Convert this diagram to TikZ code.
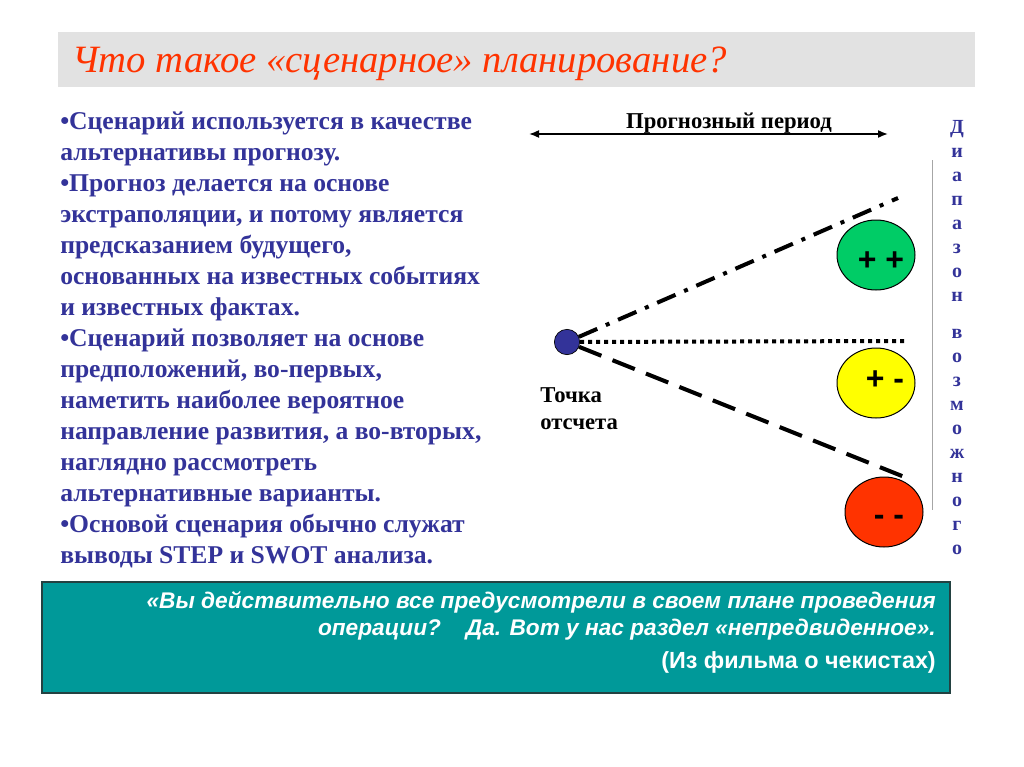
\documentclass[tikz,border=0pt]{standalone}
\usepackage{fontspec}
\setmainfont{Liberation Serif}
\setsansfont{Liberation Sans}
\usetikzlibrary{shapes.geometric,arrows.meta}

\definecolor{navy}{RGB}{51,51,153}
\definecolor{titlered}{RGB}{255,51,0}
\definecolor{titlegray}{RGB}{226,226,226}
\definecolor{quoteteal}{RGB}{0,153,153}
\definecolor{boxedge}{RGB}{35,65,65}
\definecolor{bestgreen}{RGB}{0,204,102}
\definecolor{midyellow}{RGB}{255,255,0}
\definecolor{worstred}{RGB}{255,51,0}

\newcommand{\fsz}[2]{\fontsize{#1}{#2}\selectfont}

\begin{document}
\begin{tikzpicture}[x=0.75pt,y=-0.75pt]

        \fill[white] (0,0) rectangle (1024,767);
        \useasboundingbox (0,0) rectangle (1024,767);

        \fill[titlegray] (58,32) rectangle (975,87);
        \node[anchor=base west, inner sep=0pt, text=titlered, font=\fsz{29}{35}\itshape] (title) at (72,73)
          {Что такое «сценарное» планирование?};

        \node[anchor=base west, inner sep=0pt, align=left, text=navy, font=\fsz{19.2}{23.25}\bfseries] (notes) at (60,563)
          {•Сценарий используется в качестве\\
           альтернативы прогнозу.\\
           •Прогноз делается на основе\\
           экстраполяции, и потому является\\
           предсказанием будущего,\\
           основанных на известных событиях\\
           и известных фактах.\\
           •Сценарий позволяет на основе\\
           предположений, во-первых,\\
           наметить наиболее вероятное\\
           направление развития, а во-вторых,\\
           наглядно рассмотреть\\
           альтернативные варианты.\\
           •Основой сценария обычно служат\\
           выводы STEP и SWOT анализа.};

        \coordinate (pstart) at (529,134);
        \coordinate (pend)   at (888,134);
        \draw[{Latex[length=7.5pt,width=6pt]}-{Latex[length=7.5pt,width=6pt]}, line width=1.2pt] (pstart) -- (pend);
        \node[anchor=base, inner sep=0pt, font=\fsz{17}{20}\bfseries] (period) at (729,128) {Прогнозный период};

        \draw[gray!70, line width=0.75pt] (932,160) -- (932,510);

        \begin{scope}[every node/.style={anchor=base, inner sep=0pt, text=navy, font=\fsz{15}{18}\bfseries}]
          \foreach \ch [count=\k from 0] in {Д,и,а,п,а,з,о,н}
            \node (r\k) at (957,{133+24.1*\k}) {\ch};
          \foreach \ch [count=\k from 0] in {в,о,з,м,о,ж,н,о,г,о}
            \node (s\k) at (957,{338+24.1*\k}) {\ch};
        \end{scope}

        \node[circle, fill=navy, draw=black, line width=0.5pt, minimum size=19pt, inner sep=0pt] (origin) at (567,342) {};
        \node[anchor=base west, inner sep=0pt, align=left, font=\fsz{17}{20.25}\bfseries] (startlabel) at (540,429)
          {Точка\\отсчета};

        \coordinate (best)  at (898,198);
        \coordinate (mid)   at (905,341);
        \coordinate (worst) at (907,478);

        \begin{scope}[line width=3pt]
          \draw[dash pattern=on 15pt off 7pt on 3pt off 7pt] (origin) -- (best);
          \draw[dash pattern=on 3pt off 3pt] (origin) -- (mid);
          \draw[dash pattern=on 18pt off 9pt] (origin) -- (worst);
        \end{scope}

        \begin{scope}[every node/.style={ellipse, draw=black, line width=0.75pt, minimum width=58.5pt, minimum height=52.5pt, inner sep=0pt}]
          \node[fill=bestgreen] (plusplus)   at (876,255) {};
          \node[fill=midyellow] (plusminus)  at (876,383) {};
          \node[fill=worstred]  (minusminus) at (884,512) {};
        \end{scope}

        \begin{scope}[every node/.style={anchor=base, inner sep=0pt, font=\sffamily\fsz{24}{28}\bfseries}]
          \node (ppsign) at (881,270) {+ +};
          \node (pmsign) at (885,389) {+ -};
          \node (mmsign) at (889,525) {- -};
        \end{scope}

        \node[draw=boxedge, fill=quoteteal, line width=1.2pt, anchor=north west, inner sep=0pt,
              minimum width=681pt, minimum height=83.25pt] (quotebox) at (41,581) {};
        \node[anchor=base east, inner sep=0pt, align=right, text=white, font=\sffamily\bfseries\itshape\fsz{17}{20.25}] (quote) at (936,635)
          {«Вы действительно все предусмотрели в своем плане проведения\\
           операции?\hspace{1.1em}Да. Вот у нас раздел «непредвиденное».};
        \node[anchor=base east, inner sep=0pt, text=white, font=\sffamily\bfseries\fsz{17.5}{20}] (source) at (936,668)
          {(Из фильма о чекистах)};

      \end{tikzpicture}
\end{document}
